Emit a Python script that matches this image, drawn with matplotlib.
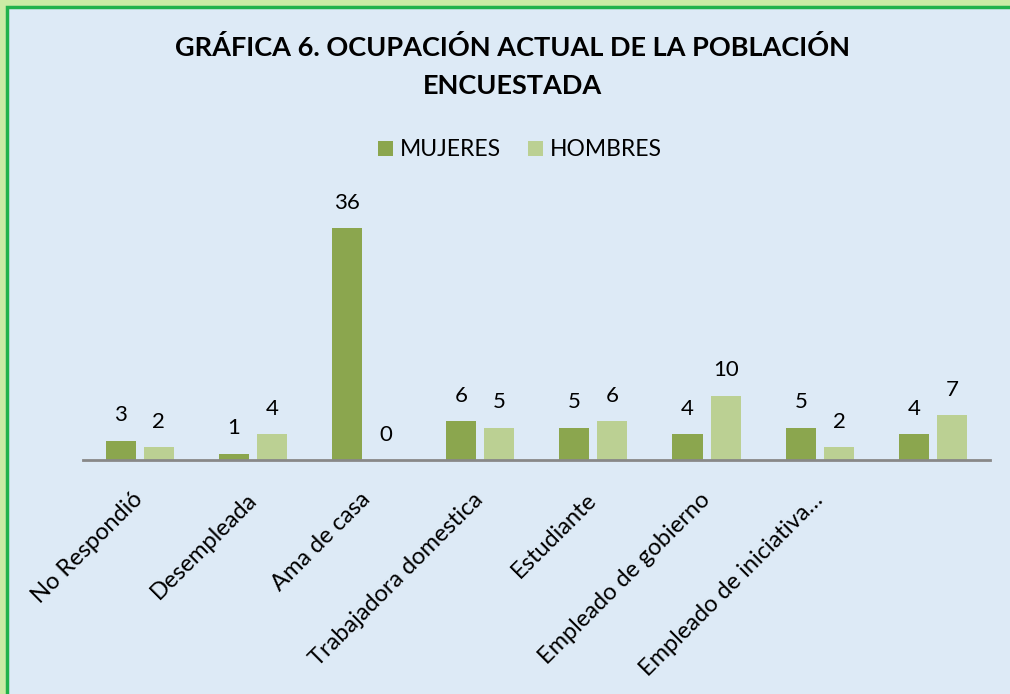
import matplotlib.pyplot as plt
import matplotlib.patches as mpatches
import numpy as np

categorias = ["No Respondió", "Desempleada", "Ama de casa", "Trabajadora domestica",
              "Estudiante", "Empleado de gobierno", "Empleado de iniciativa…", ""]
mujeres = [3, 1, 36, 6, 5, 4, 5, 4]
hombres = [2, 4, 0, 5, 6, 10, 2, 7]

color_muj = "#8BA64E"
color_hom = "#BBD093"
fondo = "#DDEAF6"

plt.rcParams['font.family'] = ['Lato', 'DejaVu Sans']

fig = plt.figure(figsize=(10.10, 6.94), dpi=100)
fig.patch.set_facecolor("#CBEBA5")
# marco interior
fig.patches.append(mpatches.Rectangle((7 / 1010, -0.01), 1.02, 1 - 7 / 694 + 0.01,
                                      transform=fig.transFigure, facecolor=fondo,
                                      edgecolor="#22B24C", linewidth=2.5, zorder=-1))

ax = fig.add_axes([83 / 1010, 1 - 460 / 694, 907 / 1010, 258 / 694])
ax.set_facecolor("none")
ax.set_zorder(2)

x = np.arange(len(categorias))
w = 0.265
b1 = ax.bar(x - 0.168, mujeres, w, color=color_muj, label="MUJERES")
b2 = ax.bar(x + 0.168, hombres, w, color=color_hom, label="HOMBRES")
ax.bar_label(b1, fontsize=16, padding=11)
ax.bar_label(b2, fontsize=16, padding=11)

ax.set_xlim(-0.5, len(categorias) - 0.5)
ax.set_ylim(0, 40)
ax.set_yticks([])
for s in ["top", "right", "left"]:
    ax.spines[s].set_visible(False)
ax.spines["bottom"].set_color("#888888")
ax.spines["bottom"].set_linewidth(2)

ax.set_xticks(x)
ax.set_xticklabels(categorias, rotation=45, ha="right", va="center",
                   rotation_mode="anchor", fontsize=17)
ax.tick_params(axis="x", length=0, pad=26)

fig.text(0.507, 1 - 47 / 694, "GRÁFICA 6. OCUPACIÓN ACTUAL DE LA POBLACIÓN",
         ha="center", va="center", fontsize=19.5, fontweight="bold")
fig.text(0.507, 1 - 86 / 694, "ENCUESTADA",
         ha="center", va="center", fontsize=19.5, fontweight="bold")

fig.legend(handles=[b1, b2], loc="center", bbox_to_anchor=(0.515, 1 - 150 / 694), ncol=2,
           frameon=False, fontsize=16.5, handlelength=0.65, handleheight=0.65,
           handletextpad=0.3, columnspacing=1.2)

fig.savefig("out.png", dpi=100, facecolor=fig.get_facecolor())
